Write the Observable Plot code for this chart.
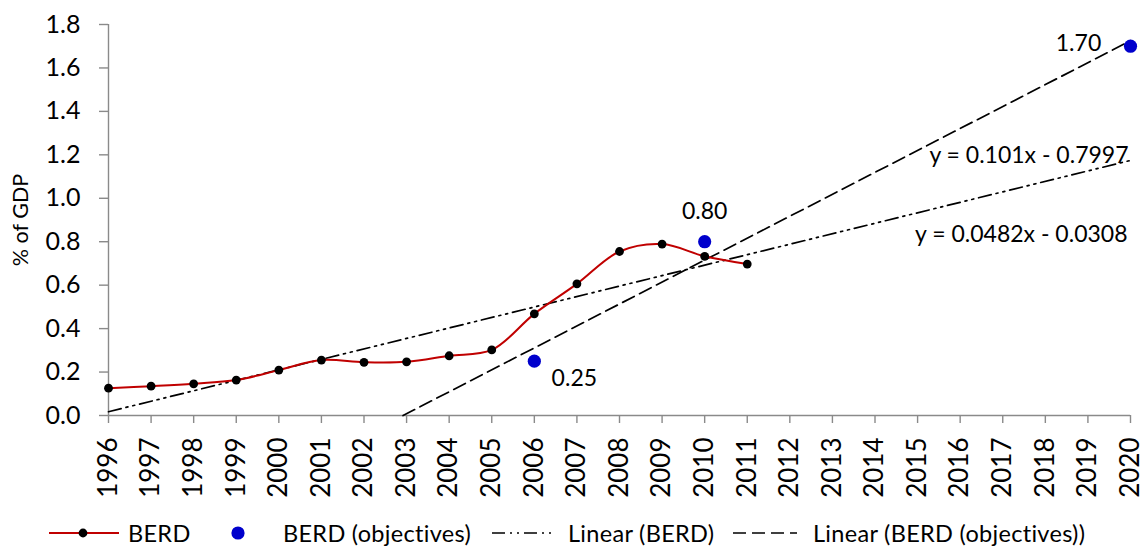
<!DOCTYPE html>
<html>
<head>
<meta charset="utf-8">
<script src="https://cdn.jsdelivr.net/npm/d3@7"></script>
<script src="https://cdn.jsdelivr.net/npm/@observablehq/plot@0.6"></script>
<style>
  html, body { margin: 0; padding: 0; background: #fff; }
  #wrap { position: relative; width: 1146px; height: 550px; font-family: Lato, "Open Sans", sans-serif; color: #000; }
  .lg { position: absolute; top: 519px; height: 28px; line-height: 28px; font-size: 23.5px; letter-spacing: 0.3px; white-space: nowrap; }
  .lg svg { position: absolute; top: 0; left: 0; }
</style>
</head>
<body>
<div id="wrap">
  <div id="chart"></div>
  <div id="legend"></div>
</div>
<script>
// ---- data ----
const berdYears  = [1996,1997,1998,1999,2000,2001,2002,2003,2004,2005,2006,2007,2008,2009,2010,2011];
const berdValues = [0.126,0.135,0.146,0.163,0.209,0.255,0.245,0.247,0.275,0.302,0.468,0.606,0.755,0.789,0.733,0.697];
const objYears   = [2006, 2010, 2020];
const objValues  = [0.25, 0.80, 1.70];
const objLabels  = ["0.25", "0.80", "1.70"];
const trendNames      = ["Linear (BERD)", "Linear (BERD (objectives))"];
const trendSlopes     = [0.0482, 0.101];
const trendIntercepts = [-0.0308, -0.7997];
const trendLabels     = ["y = 0.0482x - 0.0308", "y = 0.101x - 0.7997"];
const yearTicks  = d3.range(1996, 2021);
const yTicks     = [0, 0.2, 0.4, 0.6, 0.8, 1.0, 1.2, 1.4, 1.6, 1.8];
const seriesNames = ["BERD", "BERD (objectives)"];

// ---- tables ----
const berd = berdYears.map((y, i) => ({year: y, value: berdValues[i]}));
const obj  = objYears.map((y, i) => ({year: y, value: objValues[i], label: objLabels[i]}));
const baseYear = 1995; // Excel trendline x = series index (1996 -> 1)
const lastYear = 2020;
const trends = trendNames.map((name, k) => {
  const m = trendSlopes[k], b = trendIntercepts[k];
  const iStart = Math.max(1, -b / m);
  const iEnd = lastYear - baseYear;
  return [
    {name, year: baseYear + iStart, value: m * iStart + b},
    {name, year: baseYear + iEnd, value: m * iEnd + b}
  ];
});

const gray = "#8a8a8a";
const dashDotDot = "13,5,2,5,2,5";
const dashed = "13,6";
const annSize = 23;

const labelMarks = [
  Plot.text([obj[0]], {x: "year", y: "value", text: "label", dx: 40, dy: 17, fontSize: annSize}),
  Plot.text([obj[1]], {x: "year", y: "value", text: "label", dx: 0, dy: -30, fontSize: annSize}),
  Plot.text([obj[2]], {x: "year", y: "value", text: "label", dx: -52, dy: -3, fontSize: annSize}),
  Plot.text([trends[0][1]], {x: "year", y: "value", text: () => trendLabels[0], textAnchor: "end", dx: -3, dy: 74, fontSize: annSize, letterSpacing: 0.4}),
  Plot.text([trends[1][1]], {x: "year", y: "value", text: () => trendLabels[1], textAnchor: "end", dx: -2, dy: 115, fontSize: annSize, letterSpacing: 0.4})
];

const chart = Plot.plot({
  width: 1146,
  height: 500,
  marginTop: 24,
  marginBottom: 85,
  marginLeft: 108,
  marginRight: 16,
  style: {fontFamily: "Lato, 'Open Sans', sans-serif", background: "white", overflow: "visible", color: "black"},
  x: {type: "linear", domain: [1996, 2020]},
  y: {domain: [0, 1.8]},
  marks: [
    Plot.ruleY([0], {stroke: gray, strokeWidth: 1.4}),
    Plot.ruleX([1996], {stroke: gray, strokeWidth: 1.4}),
    Plot.axisY({ticks: yTicks, tickFormat: d3.format(".1f"), tickSize: 9, tickPadding: 19, stroke: gray, strokeWidth: 1.4, fill: "black", fontSize: 25, label: null}),
    Plot.axisX({ticks: yearTicks, tickFormat: d => String(d), tickSize: 8, tickPadding: 14, tickRotate: -90, stroke: gray, strokeWidth: 1.4, fill: "black", fontSize: 26, letterSpacing: 1, label: null}),
    Plot.text(["% of GDP"], {frameAnchor: "left", rotate: -90, dx: -87, fontSize: 21.5, textAnchor: "middle"}),
    Plot.line(trends[0], {x: "year", y: "value", stroke: "black", strokeWidth: 1.7, strokeDasharray: dashDotDot}),
    Plot.line(trends[1], {x: "year", y: "value", stroke: "black", strokeWidth: 1.7, strokeDasharray: dashed}),
    Plot.line(berd, {x: "year", y: "value", stroke: "#c00000", strokeWidth: 2, curve: "catmull-rom"}),
    Plot.dot(berd, {x: "year", y: "value", r: 4.4, fill: "black"}),
    Plot.dot(obj, {x: "year", y: "value", r: 6.6, fill: "#0000cc"}),
    ...labelMarks
  ]
});
document.getElementById("chart").appendChild(chart);

// ---- legend ----
const legend = document.getElementById("legend");
const items = [
  {left: 49, sym: '<svg width="72" height="28"><line x1="0" y1="14" x2="70" y2="14" stroke="#c00000" stroke-width="2"/><circle cx="34" cy="14" r="4.4" fill="black"/></svg>', textLeft: 128, text: seriesNames[0]},
  {left: 231, sym: '<svg width="16" height="28"><circle cx="7" cy="14" r="6.6" fill="#0000cc"/></svg>', textLeft: 283, text: seriesNames[1]},
  {left: 492, sym: '<svg width="64" height="28"><line x1="0" y1="14" x2="61" y2="14" stroke="black" stroke-width="1.7" stroke-dasharray="' + dashDotDot + '"/></svg>', textLeft: 568, text: trendNames[0]},
  {left: 733, sym: '<svg width="66" height="28"><line x1="0" y1="14" x2="64" y2="14" stroke="black" stroke-width="1.7" stroke-dasharray="' + dashed + '"/></svg>', textLeft: 813, text: trendNames[1]}
];
for (const it of items) {
  const s = document.createElement("div");
  s.className = "lg";
  s.style.left = it.left + "px";
  s.style.width = "80px";
  s.innerHTML = it.sym;
  legend.appendChild(s);
  const t = document.createElement("div");
  t.className = "lg";
  t.style.left = it.textLeft + "px";
  t.textContent = it.text;
  legend.appendChild(t);
}
</script>
</body>
</html>
